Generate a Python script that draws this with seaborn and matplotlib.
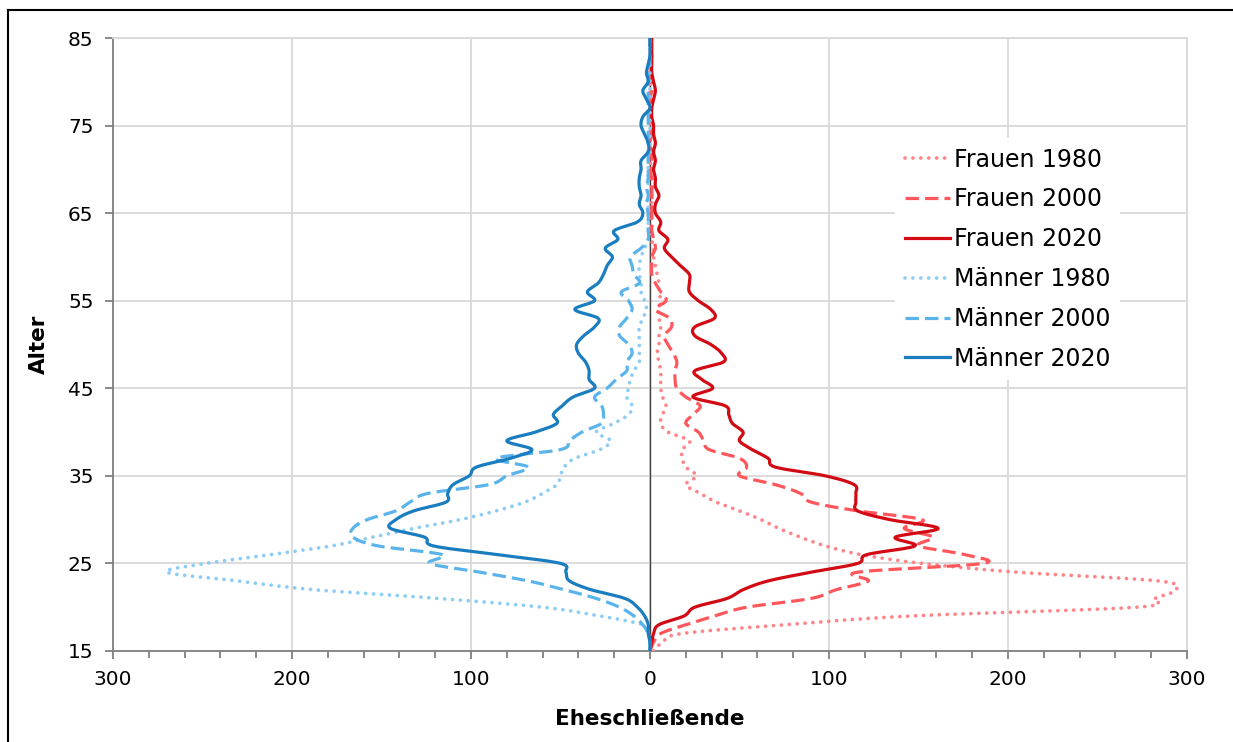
import numpy as np
import seaborn as sns
import matplotlib.pyplot as plt
from matplotlib.lines import Line2D
from matplotlib.ticker import FuncFormatter, MultipleLocator

# Alter 15..85, Eheschließende je Altersjahr
ages = list(range(15, 86))

frauen_1980 = [
    2, 7, 18, 76, 146, 272, 282, 294, 284, 205,    # 15-24
    152, 118, 98, 84, 72, 62, 50, 37, 28, 20,      # 25-34
    26, 20, 18, 18, 22, 10, 6, 7, 9, 7,            # 35-44
    6, 6, 6, 5, 4, 5, 5, 6, 5, 5,                  # 45-54
    6, 5, 5, 4, 3, 2, 2, 1, 1, 1,                  # 55-64
    1, 1, 1, 1, 1, 1, 0, 0, 0, 0,                  # 65-74
    0, 0, 0, 0, 0, 0, 0, 0, 0, 0, 0]               # 75-85

frauen_2000 = [
    0, 2, 6, 20, 36, 54, 90, 104, 122, 116,
    186, 176, 150, 158, 142, 152, 116, 90, 84, 70,
    50, 54, 50, 33, 30, 27, 20, 24, 28, 20,
    15, 14, 14, 15, 13, 10, 8, 12, 11, 3,
    9, 6, 3, 1, 1, 1, 3, 2, 1, 1,
    1, 1, 1, 1, 1, 0, 1, 1, 0, 1,
    1, 0, 1, 0, 1, 1, 0, 0, 1, 0, 0]

frauen_2020 = [
    0, 1, 2, 5, 19, 25, 43, 52, 66, 90,
    116, 121, 148, 137, 161, 134, 116, 115, 115, 114,
    98, 70, 66, 57, 50, 52, 46, 44, 42, 24,
    35, 29, 25, 41, 40, 34, 25, 25, 36, 34,
    27, 22, 22, 22, 17, 12, 8, 10, 5, 6,
    3, 3, 5, 3, 3, 2, 3, 2, 3, 2,
    2, 1, 1, 2, 3, 2, 1, 1, 1, 1, 1]

maenner_1980 = [
    0, 0, 1, 4, 28, 60, 118, 188, 230, 270,
    248, 212, 178, 155, 132, 106, 86, 70, 60, 52,
    50, 48, 42, 28, 22, 30, 20, 12, 10, 13,
    12, 11, 9, 6, 6, 6, 6, 6, 4, 2,
    3, 5, 5, 6, 6, 5, 3, 1, 1, 1,
    1, 1, 1, 1, 1, 1, 1, 0, 0, 0,
    0, 0, 0, 0, 0, 0, 0, 0, 0, 0, 0]

maenner_2000 = [
    0, 0, 1, 4, 9, 17, 30, 48, 68, 95,
    123, 116, 152, 166, 166, 158, 142, 134, 124, 90,
    80, 68, 86, 50, 45, 38, 27, 26, 27, 31,
    24, 19, 13, 13, 10, 12, 17, 17, 13, 10,
    12, 16, 6, 9, 10, 11, 5, 1, 1, 1,
    1, 2, 1, 2, 1, 1, 1, 1, 1, 1,
    1, 1, 1, 1, 1, 1, 1, 0, 0, 0, 0]

maenner_2020 = [
    0, 0, 1, 1, 3, 7, 14, 33, 45, 47,
    50, 85, 121, 126, 145, 142, 132, 114, 113, 110,
    101, 97, 78, 66, 80, 64, 52, 54, 49, 43,
    31, 34, 34, 36, 40, 41, 37, 31, 29, 42,
    31, 35, 29, 26, 24, 21, 25, 18, 20, 7,
    4, 6, 5, 6, 6, 5, 5, 1, 1, 3,
    5, 4, 0, 2, 4, 1, 2, 1, 0, 0, 0]

labels = ["Frauen 1980", "Frauen 2000", "Frauen 2020",
          "Männer 1980", "Männer 2000", "Männer 2020"]
colors = ["#ff8489", "#ff575c", "#d20a14", "#8ccdf5", "#5ab4eb", "#1a7dbf"]


def smooth(vals, ys, n=12):
    # Excel-like smoothed line (Catmull-Rom through the data points)
    p = np.column_stack([vals, ys]).astype(float)
    p = np.vstack([p[0], p, p[-1]])
    t = np.linspace(0, 1, n, endpoint=False)[:, None]
    out = []
    for i in range(1, len(p) - 2):
        p0, p1, p2, p3 = p[i - 1], p[i], p[i + 1], p[i + 2]
        out.append(0.5 * (2 * p1 + (-p0 + p2) * t
                          + (2 * p0 - 5 * p1 + 4 * p2 - p3) * t ** 2
                          + (-p0 + 3 * p1 - 3 * p2 + p3) * t ** 3))
    out.append(p[-2][None, :])
    s = np.vstack(out)
    return s[:, 0], s[:, 1]


plt.rcParams["font.family"] = ["DejaVu Sans"]

fig = plt.figure(figsize=(12.33, 7.42), dpi=100)
ax = fig.add_axes([113 / 1233, 1 - 651 / 742, 1074 / 1233, 613 / 742])

ax.axvline(0, color="#404040", lw=1.0, zorder=1.5)

series = [frauen_1980, frauen_2000, frauen_2020,
          maenner_1980, maenner_2000, maenner_2020]
styles = [(0, (0.01, 2.1)), (0, (4.2, 1.9)), "-"] * 2
for i, (vals, lab, col, ls) in enumerate(zip(series, labels, colors, styles)):
    sign = 1 if i < 3 else -1
    dotted = i % 3 == 0
    xs, ys = smooth([sign * v for v in vals], ages)
    sns.lineplot(x=xs, y=ys, orient="y", sort=False, estimator=None, ax=ax,
                 color=col, lw=2.7 if dotted else 2.3, linestyle=ls, label=lab,
                 dash_capstyle="round" if dotted else "butt", zorder=3)

ax.set_xlim(-300, 300)
ax.set_ylim(15, 85)
ax.xaxis.set_major_locator(MultipleLocator(100))
ax.xaxis.set_minor_locator(MultipleLocator(20))
ax.xaxis.set_major_formatter(FuncFormatter(lambda v, p: f"{abs(v):.0f}"))
ax.set_yticks(range(15, 86, 10))

ax.grid(which="major", color="#d9d9d9", lw=1.3)
ax.set_axisbelow(True)
for s in ["left", "bottom"]:
    ax.spines[s].set_color("#7f7f7f")
    ax.spines[s].set_linewidth(1.3)
for s in ["top", "right"]:
    ax.spines[s].set_color("#d9d9d9")
    ax.spines[s].set_linewidth(1.3)
ax.tick_params(which="major", direction="out", length=6, width=1.3,
               color="#7f7f7f", labelsize=14.5, pad=8, labelcolor="black")
ax.tick_params(which="minor", direction="out", length=5, width=1.3,
               color="#7f7f7f")

ax.set_xlabel("Eheschließende", fontsize=15.5, fontweight="bold", labelpad=14)
ax.set_ylabel("Alter", fontsize=15.5, fontweight="bold", labelpad=14)

ax.legend(loc="upper right", bbox_to_anchor=(0.949, 0.856), frameon=True,
          facecolor="white", edgecolor="none", framealpha=1, fancybox=False,
          fontsize=17, handlelength=1.9, handletextpad=0.2,
          labelspacing=0.67, borderpad=0.4)

# Rahmen um die Grafik (rechts/unten abgeschnitten)
fig.add_artist(Line2D([8 / 1233, 8 / 1233], [0, 1 - 10 / 742],
                      transform=fig.transFigure, color="black", lw=1.5))
fig.add_artist(Line2D([8 / 1233, 1], [1 - 10 / 742, 1 - 10 / 742],
                      transform=fig.transFigure, color="black", lw=1.5))

fig.savefig("out.png", dpi=100)
